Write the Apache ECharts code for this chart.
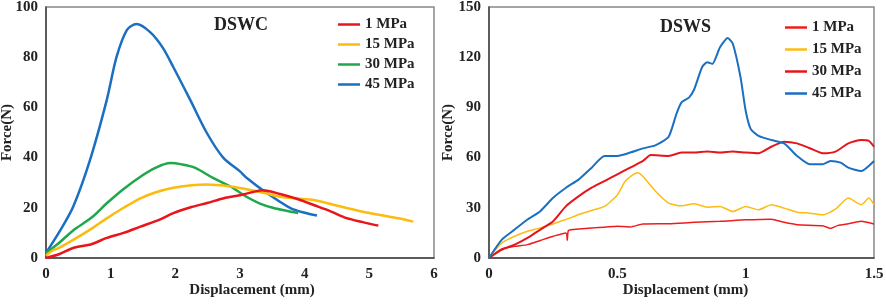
<!DOCTYPE html>
<html>
<head>
<meta charset="utf-8">
<script src="https://cdn.jsdelivr.net/npm/echarts@6/dist/echarts.min.js"></script>
<style>
  html, body { margin: 0; padding: 0; background: #fff; }
  #chart { width: 886px; height: 305px; }
</style>
</head>
<body>
<div id="chart"></div>
<script>
// DSWC panel (displacement mm, force N)
var dswc1 = [[0,0],[0.2,1.5],[0.42,4],[0.7,5.5],[0.94,8],[1.2,10],[1.46,12.5],[1.75,15.2],[1.97,17.9],[2.25,20.3],[2.49,21.9],[2.75,23.8],[3.0,25],[3.2,26.3],[3.36,27],[3.62,25.5],[3.9,23.4],[4.14,21.1],[4.4,18.6],[4.65,15.9],[4.9,14.3],[5.14,12.9]];
var dswc15 = [[0,1],[0.1,3],[0.2,4],[0.42,7.2],[0.7,11.6],[0.94,15.8],[1.2,20],[1.46,23.8],[1.7,26.2],[1.97,28],[2.25,29],[2.49,29.3],[2.8,28.7],[3.1,27.4],[3.36,26],[3.62,24.4],[3.9,23.7],[4.14,23.1],[4.4,21.5],[4.65,19.9],[4.9,18.4],[5.17,17.1],[5.45,15.8],[5.68,14.5]];
var dswc30 = [[0,2],[0.2,6],[0.42,11],[0.7,16],[0.94,21.8],[1.2,27.5],[1.46,32.4],[1.7,36],[1.92,37.8],[2.1,37.3],[2.3,36],[2.59,31.8],[2.85,28.5],[3.1,24.4],[3.3,21.8],[3.52,19.9],[3.7,18.9],[3.9,17.9]];
var dswc45 = [[0,2],[0.22,11],[0.42,20.4],[0.68,39],[0.94,63],[1.09,80],[1.25,90.8],[1.4,93.2],[1.61,90],[1.8,84],[1.97,76],[2.23,63],[2.49,49.7],[2.74,40],[3.0,34.5],[3.1,32],[3.42,25.8],[3.78,19.9],[4.0,18],[4.19,16.9]];

// DSWS panel
var dsws1 = [[0,0],[0.05,5.4],[0.1,7],[0.15,8],[0.2,10.5],[0.25,13],[0.3,15],[0.305,10.5],[0.31,16.5],[0.35,17.3],[0.4,18],[0.45,18.4],[0.5,19],[0.55,18.6],[0.6,20.3],[0.7,20.5],[0.8,21.3],[0.9,21.9],[1.0,22.8],[1.1,23.2],[1.15,21.3],[1.2,19.9],[1.3,19.3],[1.33,17.7],[1.36,19.5],[1.4,20.5],[1.45,21.9],[1.5,20.3]];
var dsws15 = [[0,0],[0.05,9],[0.1,13],[0.15,16],[0.2,18],[0.25,20.5],[0.3,23],[0.35,26],[0.4,28.4],[0.45,30.8],[0.5,37.7],[0.53,45.7],[0.56,49.7],[0.58,51],[0.6,48.7],[0.65,39.7],[0.7,32.8],[0.75,31.2],[0.8,32.4],[0.85,30.4],[0.9,30.8],[0.95,27.8],[1.0,30.8],[1.05,28.8],[1.1,31.8],[1.15,29.8],[1.2,27.4],[1.25,26.8],[1.3,25.8],[1.35,29.2],[1.4,35.8],[1.45,31.8],[1.48,35.8],[1.5,31.8]];
var dsws30 = [[0,0],[0.05,5],[0.1,8],[0.15,12],[0.2,17],[0.25,22],[0.3,31],[0.35,37],[0.4,42],[0.45,46],[0.5,50],[0.55,54],[0.6,58],[0.63,61.5],[0.7,61],[0.75,63],[0.8,63],[0.85,63.6],[0.9,63],[0.95,63.6],[1.0,63],[1.05,62.6],[1.1,66.5],[1.15,69.5],[1.2,68.5],[1.25,65.6],[1.3,62.6],[1.35,63.6],[1.4,68.5],[1.45,70.5],[1.48,70],[1.5,66.5]];
var dsws45 = [[0,0],[0.05,11],[0.1,17],[0.15,23],[0.2,28],[0.25,36],[0.3,42],[0.35,47],[0.4,54],[0.45,61],[0.5,61],[0.55,63],[0.6,65.5],[0.65,67.5],[0.7,72.5],[0.73,86],[0.75,93],[0.78,96],[0.8,101],[0.83,114],[0.85,117],[0.87,116],[0.9,126],[0.93,131.5],[0.95,128],[0.98,108],[1.0,88],[1.02,77],[1.05,73],[1.1,70.5],[1.15,68.5],[1.2,61],[1.25,56],[1.3,56],[1.33,58],[1.37,57],[1.4,54],[1.45,52],[1.5,58]];

var seriesNames = ['1 MPa', '15 MPa', '30 MPa', '45 MPa'];
var leftColors = ['#e8161b', '#fdbb0f', '#1ea84a', '#1a6fc2'];
var rightColors = ['#f01c1c', '#fcbc12', '#e4161c', '#1a6fc2'];
var leftTicksY = [0, 100, 20];
var rightTicksY = [0, 150, 30];

var font = '"Liberation Serif", "Times New Roman", serif';
var labelStyle = { fontFamily: font, fontWeight: 'bold', fontSize: 15, color: '#222' };

function xAxisCfg(idx, min, max, interval, shift) {
  return {
    gridIndex: idx, type: 'value', min: min, max: max, interval: interval,
    name: 'Displacement (mm)', nameLocation: 'middle', nameGap: 25, nameMoveOverlap: false,
    nameTextStyle: { fontFamily: font, fontWeight: 'bold', fontSize: 15, color: '#222', padding: [0, 0, 0, shift] },
    axisLine: { show: true, lineStyle: { color: '#444', width: 1.5 } },
    axisTick: { show: false },
    axisLabel: Object.assign({ margin: 9 }, labelStyle),
    splitLine: { show: false }
  };
}
function yAxisCfg(idx, t, gap) {
  return {
    gridIndex: idx, type: 'value', min: t[0], max: t[1], interval: t[2],
    name: 'Force(N)', nameLocation: 'middle', nameGap: gap, nameMoveOverlap: false,
    nameTextStyle: { fontFamily: font, fontWeight: 'bold', fontSize: 15, color: '#222' },
    axisLine: { show: true, lineStyle: { color: '#444', width: 1.5 } },
    axisTick: { show: false },
    axisLabel: Object.assign({ margin: 8 }, labelStyle),
    splitLine: { show: false }
  };
}

var leftData = [dswc1, dswc15, dswc30, dswc45];
var rightData = [dsws1, dsws15, dsws30, dsws45];
var series = [];
leftData.forEach(function (d, i) {
  series.push({ name: 'L ' + seriesNames[i], type: 'line', xAxisIndex: 0, yAxisIndex: 0,
    data: d, symbol: 'none', smooth: 0.3, z: 2 + (3 - i),
    lineStyle: { color: leftColors[i], width: 2.5 }, itemStyle: { color: leftColors[i] } });
});
rightData.forEach(function (d, i) {
  series.push({ name: 'R ' + seriesNames[i], type: 'line', xAxisIndex: 1, yAxisIndex: 1,
    data: d, symbol: 'none', smooth: 0.2, z: 2 + i,
    lineStyle: { color: rightColors[i], width: i === 0 || i === 1 ? 1.5 : 2 }, itemStyle: { color: rightColors[i] } });
});

function legendCfg(prefix, left, top, gap) {
  return {
    data: seriesNames.map(function (n) { return prefix + n; }),
    orient: 'vertical', left: left, top: top, itemGap: gap, padding: 0,
    icon: 'rect', itemWidth: 22, itemHeight: 2.5,
    selectedMode: false,
    formatter: function (n) { return n.slice(2); },
    textStyle: { fontFamily: font, fontWeight: 'bold', fontSize: 15, color: '#222' }
  };
}

var chart = echarts.init(document.getElementById('chart'));
chart.setOption({
  animation: false,
  title: [
    { text: 'DSWC', left: 209, top: 11, textStyle: { fontFamily: font, fontWeight: 'bold', fontSize: 18, color: '#222' } },
    { text: 'DSWS', left: 655, top: 13, textStyle: { fontFamily: font, fontWeight: 'bold', fontSize: 18, color: '#222' } }
  ],
  legend: [legendCfg('L ', 338, 17, 5), legendCfg('R ', 785, 20, 7)],
  grid: [
    { left: 46, top: 7, width: 388, height: 251, show: true, borderColor: '#888', borderWidth: 1.5, outerBoundsMode: 'none', containLabel: false },
    { left: 489, top: 7, width: 385, height: 251, show: true, borderColor: '#888', borderWidth: 1.5, outerBoundsMode: 'none', containLabel: false }
  ],
  xAxis: [xAxisCfg(0, 0, 6, 1, 24), xAxisCfg(1, 0, 1.5, 0.5, 8)],
  yAxis: [yAxisCfg(0, leftTicksY, 31), yAxisCfg(1, rightTicksY, 33)],
  series: series
});
</script>
</body>
</html>
